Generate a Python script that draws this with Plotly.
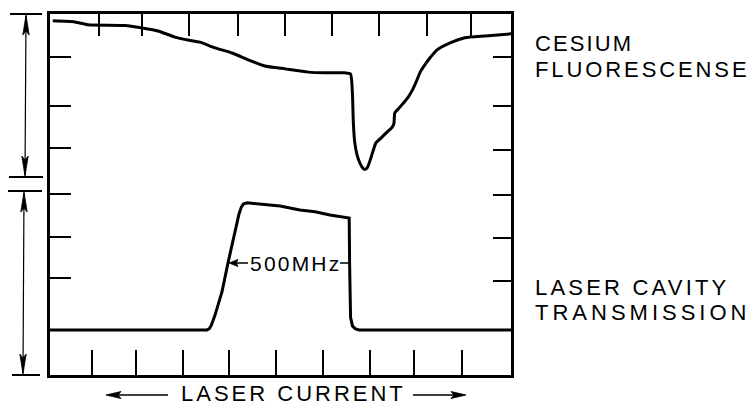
import plotly.graph_objects as go

# ---------------- data (arbitrary units: x = laser current 0-100, y = signal 0-100) -------------
cesium_x = [0.6, 5.4, 8.2, 16.3, 20.0, 23.4, 27.1, 29.9, 32.5, 35.8, 39.5, 43.0, 46.6, 51.0,
            56.0, 59.7, 64.0, 65.2, 65.6, 65.8, 66.1, 66.6, 67.2, 67.8, 68.3, 68.9, 69.6, 70.7,
            71.6, 73.1, 74.2, 74.6, 74.8, 75.9, 77.7, 78.6, 79.5, 80.3, 81.3, 82.4, 83.9,
            86.8, 90.0, 94.4, 100.0]
cesium_y = [98.1, 97.8, 97.0, 96.8, 96.1, 95.3, 93.6, 92.8, 92.2, 90.6, 89.2, 87.3, 85.6, 84.8,
            83.9, 83.7, 83.7, 83.4, 78.0, 70.0, 64.5, 61.0, 58.8, 57.4, 56.9, 57.6, 60.1, 64.3,
            65.4, 67.3, 68.6, 69.6, 72.6, 74.2, 77.0, 78.9, 81.4, 83.9, 85.9, 87.8, 90.0,
            92.0, 93.4, 93.9, 94.5]

trans_x = [0.0, 34.1, 34.6, 35.0, 35.8, 37.3, 38.6, 40.1, 41.0, 41.5, 42.0, 42.8, 45.6, 49.9,
           54.2, 57.5, 60.7, 64.9, 65.0, 65.2, 65.6, 66.2, 67.0, 100.0]
trans_y = [12.5, 12.5, 12.9, 13.8, 16.6, 23.0, 31.0, 39.6, 44.6, 46.5, 47.4, 47.7, 47.4, 46.8,
           45.7, 45.2, 44.3, 43.5, 30.0, 16.0, 13.6, 12.8, 12.5, 12.5]

top_ticks = [10.6, 20.0, 30.2, 40.8, 51.0, 61.2, 71.4, 81.8, 91.3]
bottom_ticks = [9.1, 18.7, 28.9, 38.8, 49.0, 59.2, 69.4, 79.0, 89.4]
left_ticks = [26.9, 38.2, 50.1, 62.9, 74.5, 88.1]
right_ticks = [26.0, 38.0, 49.9, 62.3, 74.5, 88.1]

label_fluor = ["CESIUM", "FLUORESCENSE"]
label_trans = ["LASER CAVITY", "TRANSMISSION"]
label_x = "LASER CURRENT"
label_width = "500MHz"

# ---------------- layout geometry ----------------
W, H = 756, 407
L, R, T, B = 50, 511, 14, 375
FONT = "Liberation Sans"


def px(x):
    return (x - L) / (R - L)


def py(y):
    return (B - y) / (B - T)


def line(x0, y0, x1, y1, w=1.5):
    return dict(type="line", xref="paper", yref="paper",
                x0=px(x0), y0=py(y0), x1=px(x1), y1=py(y1),
                line=dict(color="black", width=w), layer="above")


def head(tx, ty, dx, dy, length, hw):
    # narrow filled arrowhead, tip at (tx,ty), pointing along (dx,dy)
    bx, by = tx - dx * length, ty - dy * length
    nx, ny = -dy, dx
    nxp, nyp = tx - dx * length * 0.8, ty - dy * length * 0.8
    pts = [(tx, ty), (bx + nx * hw, by + ny * hw), (nxp, nyp), (bx - nx * hw, by - ny * hw)]
    path = "M " + " L ".join(f"{px(a):.5f},{py(b):.5f}" for a, b in pts) + " Z"
    return dict(type="path", xref="paper", yref="paper", path=path,
                fillcolor="black", line=dict(color="black", width=0.8), layer="above")


fig = go.Figure()
fig.add_trace(go.Scatter(x=cesium_x, y=cesium_y, mode="lines",
                         line=dict(color="black", width=3, shape="spline", smoothing=0.5),
                         hoverinfo="skip", showlegend=False))
fig.add_trace(go.Scatter(x=trans_x, y=trans_y, mode="lines",
                         line=dict(color="black", width=3), hoverinfo="skip", showlegend=False))
fig.add_trace(go.Scatter(x=[], y=[], xaxis="x2", yaxis="y2", showlegend=False, hoverinfo="skip"))

shapes = []
# dimension markers on the left
shapes += [line(10, 14, 42, 14, 2), line(9, 177, 43, 177, 2),
           line(8, 191, 42, 191, 2), line(12, 375, 40, 375, 2)]
shapes += [line(26, 16, 25, 175, 1.2), line(24, 193, 23, 373, 1.2)]
shapes += [head(26, 15, 0, -1, 20, 3.2), head(25, 176, 0, 1, 20, 3.2),
           head(24, 192, 0, -1, 20, 3.2), head(23, 374, 0, 1, 20, 3.2)]
# laser current arrows
shapes += [line(109, 395, 168, 395, 1.6), line(413, 395, 463, 395, 1.6),
           head(106, 395, -1, 0, 15, 3.5), head(466, 395, 1, 0, 15, 3.5)]
# 500 MHz width marker
shapes += [line(231, 263, 248, 263, 1.5), line(340, 263, 349, 263, 1.5),
           head(229, 263, -1, 0, 9, 3.5)]


def ann(text, x, y, size, spacing, xanchor="left"):
    return dict(text=f'<span style="letter-spacing:{spacing}px">{text}</span>',
                xref="paper", yref="paper", x=px(x), y=py(y), xanchor=xanchor,
                yanchor="middle", showarrow=False, borderpad=0, borderwidth=0,
                font=dict(family=FONT, size=size, color="black"))


annotations = [
    ann(label_fluor[0], 535, 44, 22, 2.1),
    ann(label_fluor[1], 535, 69, 22, 2.9),
    ann(label_trans[0], 535, 287, 22, 3.2),
    ann(label_trans[1], 535, 312, 22, 4.0),
    ann(label_x, 293, 393.5, 22, 3.0, "center"),
    ann(label_width, 295, 263, 21, 2.2, "center"),
]

axis_common = dict(range=[0, 100], showgrid=False, zeroline=False, showticklabels=False,
                   ticks="inside", tickcolor="black", tickwidth=1.6, fixedrange=True)

fig.update_layout(
    width=W, height=H, autosize=False,
    margin=dict(l=L, r=W - R, t=T, b=H - B, pad=0),
    paper_bgcolor="white", plot_bgcolor="white",
    showlegend=False,
    xaxis=dict(**axis_common, tickmode="array", tickvals=bottom_ticks, ticklen=25,
               showline=True, linecolor="black", linewidth=3, mirror=True),
    xaxis2=dict(**axis_common, overlaying="x", side="top", anchor="y",
                tickmode="array", tickvals=top_ticks, ticklen=22, showline=False),
    yaxis=dict(**axis_common, tickmode="array", tickvals=left_ticks, ticklen=21,
               showline=True, linecolor="black", linewidth=3, mirror=True),
    yaxis2=dict(**axis_common, overlaying="y", side="right", anchor="x",
                tickmode="array", tickvals=right_ticks, ticklen=18, showline=False),
    shapes=shapes,
    annotations=annotations,
)

fig.write_html(
    "out.html",
    config={"displayModeBar": False, "staticPlot": True},
    post_script="document.documentElement.style.margin='0';document.body.style.margin='0';"
                "document.body.style.overflow='hidden';",
)
